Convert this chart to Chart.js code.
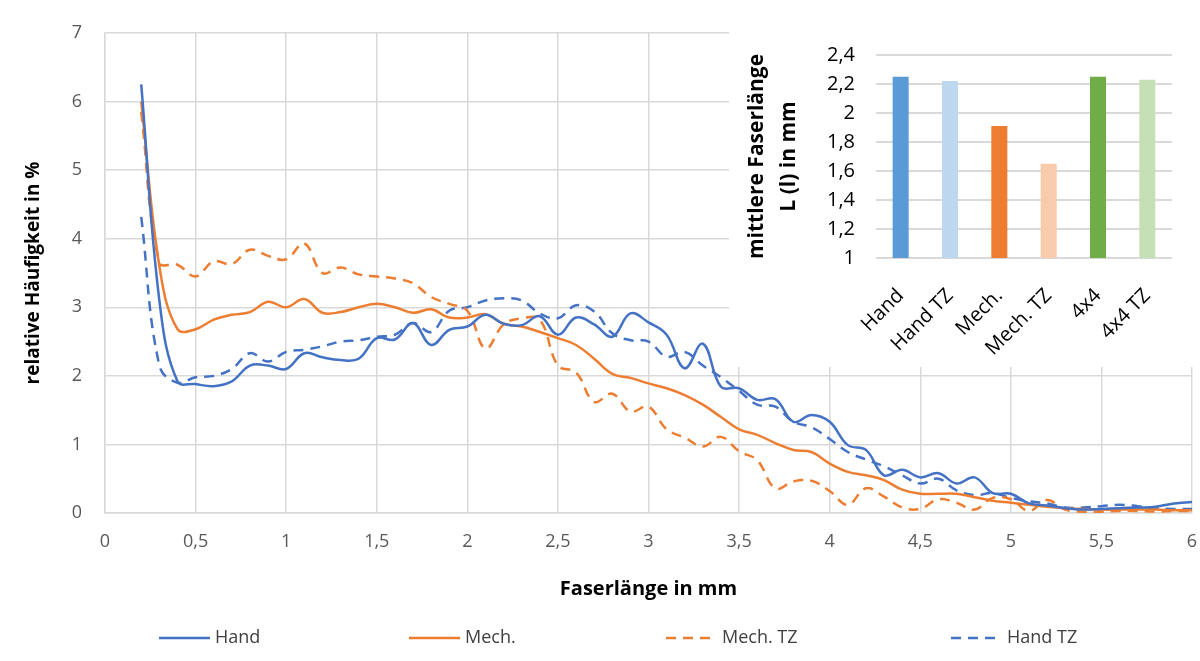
<!DOCTYPE html>
<html>
<head>
<meta charset="utf-8">
<script src="https://cdn.jsdelivr.net/npm/chart.js@4.4.0/dist/chart.umd.min.js"></script>
<style>
  html, body { margin: 0; padding: 0; background: #fff; }
  #wrap { position: relative; width: 1200px; height: 661px; }
  #main { position: absolute; left: 0; top: 0; }
  #inset { position: absolute; left: 729px; top: 20px; background: #fff; }
</style>
</head>
<body>
<div id="wrap">
  <canvas id="main" width="1200" height="661"></canvas>
  <canvas id="inset" width="471" height="347"></canvas>
</div>
<script>
// Faserlänge in mm (x)
const faserlaenge = [0.2,0.3,0.4,0.5,0.6,0.7,0.8,0.9,1.0,1.1,1.2,1.3,1.4,1.5,1.6,1.7,1.8,1.9,2.0,
  2.1,2.2,2.3,2.4,2.5,2.6,2.7,2.8,2.9,3.0,3.1,3.2,3.3,3.4,3.5,3.6,3.7,3.8,3.9,4.0,
  4.1,4.2,4.3,4.4,4.5,4.6,4.7,4.8,4.9,5.0,5.1,5.2,5.3,5.4,5.5,5.6,5.7,5.8,5.9,6.0];

// relative Häufigkeit in %
const hand = [6.25,3.1,1.92,1.88,1.85,1.92,2.15,2.15,2.1,2.33,2.27,2.23,2.25,2.55,2.53,2.77,2.45,2.67,2.72,
  2.89,2.76,2.74,2.87,2.6,2.85,2.75,2.57,2.91,2.78,2.6,2.11,2.47,1.84,1.82,1.65,1.66,1.33,1.43,1.33,
  0.99,0.92,0.55,0.63,0.52,0.58,0.43,0.52,0.29,0.28,0.14,0.11,0.07,0.05,0.06,0.07,0.08,0.09,0.14,0.16];
const mech = [6.0,3.6,2.68,2.68,2.82,2.89,2.93,3.08,3.0,3.12,2.92,2.93,3.0,3.05,3.0,2.92,2.97,2.85,2.85,
  2.9,2.76,2.72,2.64,2.55,2.45,2.25,2.03,1.97,1.89,1.82,1.72,1.58,1.4,1.22,1.14,1.02,0.92,0.89,0.72,
  0.6,0.55,0.48,0.34,0.28,0.28,0.28,0.23,0.18,0.15,0.12,0.09,0.07,0.06,0.05,0.05,0.05,0.05,0.04,0.04];
const mechTZ = [5.85,3.65,3.62,3.45,3.67,3.63,3.84,3.75,3.7,3.93,3.5,3.58,3.48,3.45,3.42,3.35,3.15,3.05,2.95,
  2.4,2.75,2.84,2.82,2.15,2.05,1.62,1.74,1.48,1.55,1.22,1.1,0.97,1.11,0.9,0.77,0.36,0.46,0.47,0.32,
  0.12,0.36,0.24,0.08,0.06,0.2,0.15,0.05,0.22,0.2,0.03,0.19,0.05,0.02,0.02,0.03,0.03,0.02,0.03,0.03];
const handTZ = [4.32,2.15,1.9,1.98,2.0,2.1,2.33,2.21,2.35,2.38,2.43,2.5,2.52,2.57,2.6,2.77,2.64,2.95,3.0,
  3.1,3.13,3.1,2.91,2.84,3.03,2.94,2.62,2.52,2.5,2.28,2.35,2.15,1.98,1.78,1.58,1.55,1.33,1.25,1.08,
  0.89,0.78,0.68,0.55,0.43,0.5,0.33,0.26,0.29,0.22,0.17,0.14,0.08,0.08,0.1,0.12,0.1,0.07,0.06,0.06];

// Inset: mittlere Faserlänge
const insetKategorien = ['Hand', 'Hand TZ', 'Mech.', 'Mech. TZ', '4x4', '4x4 TZ'];
const insetWerte = [2.25, 2.22, 1.91, 1.65, 2.25, 2.23];

const BLUE = '#4472C4', ORANGE = '#ED7D31';
const insetFarben = ['#5B9BD5', '#BDD7EE', '#ED7D31', '#F8CBAD', '#70AD47', '#C5E0B4'];
const GRID = '#D9D9D9';
const FONT = '"Open Sans", "DejaVu Sans", sans-serif';
const komma = v => String(Math.round(v * 100) / 100).replace('.', ',');

const pts = arr => faserlaenge.map((x, i) => ({ x: x, y: arr[i] }));

// legend drawn in fixed slots below the chart
const legendSlots = [159, 409, 666, 951];
const slotLegend = {
  id: 'slotLegend',
  afterDraw(chart) {
    const ctx = chart.ctx;
    ctx.save();
    chart.data.datasets.forEach((ds, i) => {
      const x = legendSlots[i], y = 638;
      ctx.strokeStyle = ds.borderColor;
      ctx.lineWidth = ds.borderWidth;
      ctx.setLineDash(ds.borderDash || []);
      ctx.beginPath();
      ctx.moveTo(x, y);
      ctx.lineTo(x + 51, y);
      ctx.stroke();
      ctx.setLineDash([]);
      ctx.fillStyle = '#404040';
      ctx.font = '18px ' + FONT;
      ctx.textBaseline = 'middle';
      ctx.fillText(ds.label, x + 56, y);
    });
    ctx.restore();
  }
};

const lineDs = (label, arr, color, dash) => ({
  label: label,
  data: pts(arr),
  borderColor: color,
  backgroundColor: color,
  borderWidth: 2.5,
  borderDash: dash,
  pointRadius: 0,
  tension: 0.4,
  fill: false
});

new Chart(document.getElementById('main'), {
  type: 'line',
  data: {
    datasets: [
      lineDs('Hand', hand, BLUE, []),
      lineDs('Mech.', mech, ORANGE, []),
      lineDs('Mech. TZ', mechTZ, ORANGE, [10, 7]),
      lineDs('Hand TZ', handTZ, BLUE, [10, 7])
    ]
  },
  options: {
    responsive: false,
    animation: false,
    layout: { padding: { left: 0, right: 8, top: 33, bottom: 48 } },
    plugins: { legend: { display: false }, tooltip: { enabled: false } },
    scales: {
      x: {
        type: 'linear',
        min: 0, max: 6,
        ticks: { stepSize: 0.5, padding: 18, color: '#595959', font: { family: FONT, size: 18 }, callback: komma, maxRotation: 0 },
        grid: { color: GRID, lineWidth: 1.5, drawTicks: false },
        border: { color: GRID, width: 1.5 },
        title: { display: true, text: 'Faserlänge in mm', color: '#000', font: { family: FONT, size: 20, weight: 'bold' }, padding: { top: 0, bottom: 12 } },
        afterFit(scale) { scale.height = 100; scale.paddingLeft = 0; scale.paddingRight = 0; }
      },
      y: {
        min: 0, max: 7,
        ticks: { stepSize: 1, padding: 23, color: '#595959', font: { family: FONT, size: 18 }, callback: komma },
        grid: { color: GRID, lineWidth: 1.5, drawTicks: false },
        border: { color: GRID, width: 1.5 },
        title: { display: true, text: 'relative Häufigkeit in %', color: '#000', font: { family: FONT, size: 19, weight: 'bold' }, padding: { top: 22, bottom: 0 } },
        afterFit(scale) { scale.width = 105; scale.paddingTop = 0; scale.paddingBottom = 0; }
      }
    }
  },
  plugins: [slotLegend]
});

new Chart(document.getElementById('inset'), {
  type: 'bar',
  data: {
    labels: insetKategorien,
    datasets: [{
      data: insetWerte,
      backgroundColor: insetFarben,
      borderWidth: 0,
      barPercentage: 0.325,
      categoryPercentage: 1
    }]
  },
  options: {
    responsive: false,
    animation: false,
    layout: { padding: { left: 0, right: 28, top: 35, bottom: 0 } },
    plugins: { legend: { display: false }, tooltip: { enabled: false } },
    scales: {
      x: {
        ticks: { minRotation: 45, maxRotation: 45, padding: 18, color: '#000', font: { family: FONT, size: 20 } },
        grid: { display: false },
        border: { display: false },
        afterFit(scale) { scale.height = 109; scale.paddingLeft = 0; scale.paddingRight = 0; }
      },
      y: {
        min: 1, max: 2.4,
        ticks: { stepSize: 0.2, padding: 21, color: '#000', font: { family: FONT, size: 20 }, callback: komma },
        grid: { color: GRID, lineWidth: 2, drawTicks: false },
        border: { display: false },
        title: {
          display: true,
          text: ['mittlere Faserlänge', 'L (l) in mm'],
          color: '#000',
          font: { family: FONT, size: 21, weight: 'bold', lineHeight: 1.52 },
          padding: { top: 12, bottom: 0 }
        },
        afterFit(scale) { scale.width = 147; }
      }
    }
  }
});
</script>
</body>
</html>
